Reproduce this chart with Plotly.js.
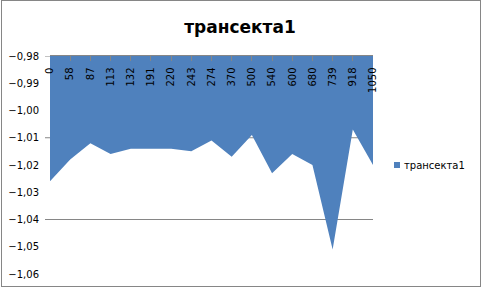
<!DOCTYPE html>
<html>
<head>
<meta charset="utf-8">
<script src="https://cdn.plot.ly/plotly-3.0.1.min.js"></script>
<style>
html,body{margin:0;padding:0;background:#fff;}
#wrap{position:absolute;left:1px;top:0px;width:478px;height:285px;border:1px solid #868686;}
#chart{width:478px;height:285px;}
</style>
</head>
<body>
<div id="wrap"><div id="chart"></div></div>
<script>
var categories = ["0","58","87","113","132","191","220","243","274","370","500","540","600","680","739","918","1050"];
var values = [-1.026,-1.018,-1.012,-1.016,-1.014,-1.014,-1.014,-1.015,-1.011,-1.017,-1.009,-1.023,-1.016,-1.020,-1.051,-1.007,-1.020];
var seriesName = "трансекта1";
var yTicks = [-1.06,-1.05,-1.04,-1.03,-1.02,-1.01,-1.00,-0.99,-0.98];
var gridValues = [-1.01,-1.04];

var plotW = 323, plotH = 218, L = 48, T = 55;
var tickExt = -5/plotW;

var shapes = gridValues.map(function(v){
  return {type:'line', xref:'paper', yref:'y', x0:tickExt, x1:1, y0:v, y1:v,
          line:{color:'#868686', width:1}, layer:'below'};
});
shapes.push({type:'line', xref:'paper', yref:'y', x0:tickExt, x1:0, y0:-0.98, y1:-0.98,
          line:{color:'#868686', width:1}, layer:'above'});
function px(x){return (x-2-L)/plotW;}
function py(y){return 1-(y-1-T)/plotH;}
shapes.push({type:'rect', xref:'paper', yref:'paper', x0:px(394), x1:px(400), y0:py(168), y1:py(162),
          fillcolor:'#4F81BD', line:{width:0}});

var trace = {
  type:'scatter', mode:'lines', x:categories, y:values, name:seriesName,
  fill:'tozeroy', fillcolor:'#4F81BD', line:{color:'#4F81BD', width:0},
  hoverinfo:'skip', showlegend:false
};

var layout = {
  width:478, height:285,
  margin:{l:L, r:478-L-plotW, t:T, b:285-T-plotH},
  paper_bgcolor:'#fff', plot_bgcolor:'rgba(0,0,0,0)',
  separators:',.',
  showlegend:false,
  title:{text:'<b>'+seriesName+'</b>', font:{family:'DejaVu Sans', size:17, color:'#000'},
         x:238/478, xref:'container', xanchor:'center', y:1-26/285, yanchor:'middle'},
  xaxis:{type:'category', side:'top', range:[0,categories.length-1],
         showline:true, linecolor:'#868686', linewidth:1, showgrid:false, zeroline:false,
         ticks:'inside', ticklen:5, tickcolor:'#868686', tickangle:-90,
         ticklabelposition:'inside', ticklabeloverflow:'allow',
         tickfont:{family:'DejaVu Sans', size:10, color:'#000'},
         fixedrange:true},
  yaxis:{range:[-1.06,-0.98], tickvals:yTicks, tickformat:'.2f', showgrid:false, zeroline:false,
         showline:false, ticks:'', ticklabelstandoff:10, ticklabeloverflow:'allow',
         tickfont:{family:'DejaVu Sans', size:10, color:'#000'}, fixedrange:true},
  shapes:shapes,
  annotations:[{xref:'paper', yref:'paper', x:px(402), y:py(165), xanchor:'left', yanchor:'middle',
                text:seriesName, showarrow:false, font:{family:'DejaVu Sans', size:10, color:'#000'}}]
};

Plotly.newPlot('chart',[trace],layout,{displayModeBar:false, staticPlot:true});
</script>
</body>
</html>
